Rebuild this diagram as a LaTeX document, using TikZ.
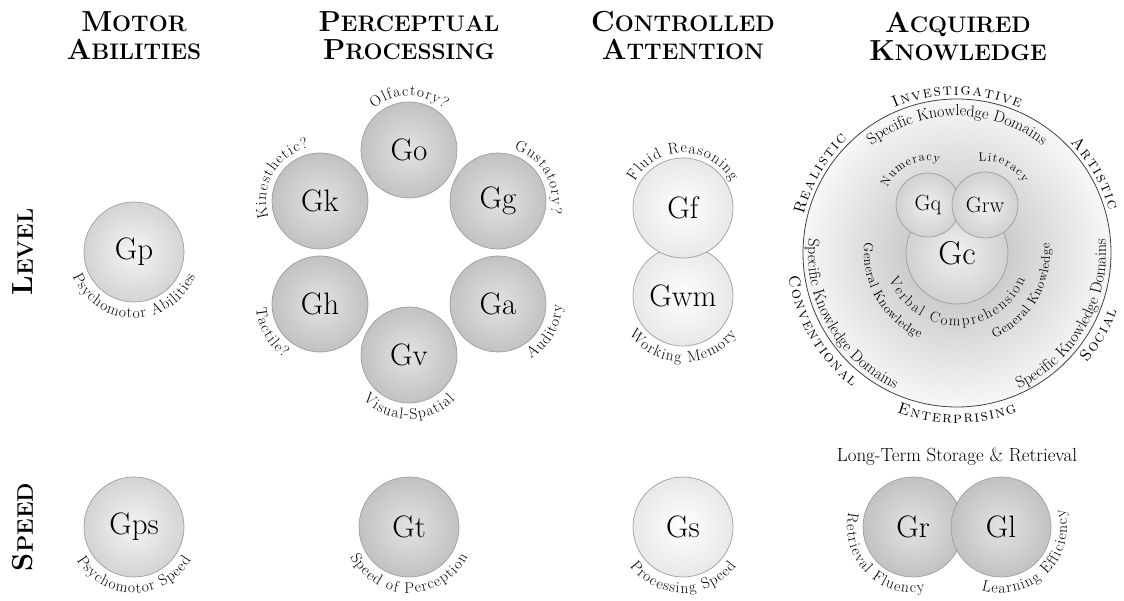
\documentclass[tikz,border=0pt]{standalone}
\usepackage{tikz}
\usetikzlibrary{shapes,positioning,decorations.text}

\definecolor{ringgray}{gray}{0.62}
\definecolor{bigring}{gray}{0.25}
\definecolor{lightin}{gray}{0.96}
\definecolor{lightout}{gray}{0.83}
\definecolor{midin}{gray}{0.89}
\definecolor{midout}{gray}{0.76}
\definecolor{palein}{gray}{1.0}
\definecolor{paleout}{gray}{0.91}
\definecolor{gcin}{gray}{0.94}
\definecolor{gcout}{gray}{0.82}
\definecolor{akin}{gray}{0.72}
\definecolor{akout}{gray}{0.97}

\newcommand\bigsc[2]{{\fontsize{29}{28}\selectfont #1}{\fontsize{22.5}{28}\selectfont #2}}
\newcommand\arcfont{\fontsize{15.5}{15.5}\selectfont}
\newcommand\secfont{\fontsize{16}{16}\selectfont\scshape}
\newcommand\skdfont{\fontsize{16}{16}\selectfont}
\newcommand\vcfont{\fontsize{15}{15}\selectfont}
\newcommand\gkfont{\fontsize{13}{13}\selectfont}
\newcommand\nlfont{\fontsize{12.5}{12.5}\selectfont}

% text on an arc round a node: node, radius, middle angle, spacing, font, text
\newcommand\cwtext[6]{%
  \path[shift={(#1)}, decorate, decoration={text effects along path, text={#6}, text align=center,
    text effects/.cd, characters={text along path, font=#5}, character widths={font=#5, inner xsep=#4}}]
    ({#3+100}:#2) arc[start angle={#3+100}, end angle={#3-100}, radius=#2];}
\newcommand\ccwtext[6]{%
  \path[shift={(#1)}, decorate, decoration={text effects along path, text={#6}, text align=center,
    text effects/.cd, characters={text along path, font=#5}, character widths={font=#5, inner xsep=#4}}]
    ({#3-100}:#2) arc[start angle={#3-100}, end angle={#3+100}, radius=#2];}

\begin{document}
\begin{tikzpicture}[x=1pt, y=1pt, every node/.style={inner sep=0pt},
  heading/.style={font=\bfseries\fontsize{29}{28}\selectfont, align=center},
  rowlbl/.style={font=\bfseries\fontsize{29}{28}\selectfont, rotate=90},
  ability/.style={circle, minimum size=100pt, draw=ringgray, line width=0.7pt, font=\fontsize{31}{31}\selectfont},
  lightball/.style={ability, inner color=lightin, outer color=lightout},
  midball/.style={ability, inner color=midin, outer color=midout},
  paleball/.style={ability, inner color=palein, outer color=paleout},
  gcball/.style={ability, inner color=gcin, outer color=gcout}]
\useasboundingbox (0,0) rectangle (1124,-601);

% Headings
\node[heading] (hmotor) at (134,-36) {\bigsc{M}{OTOR}\\\bigsc{A}{BILITIES}};
\node[heading] (hperc) at (409,-36) {\bigsc{P}{ERCEPTUAL}\\\bigsc{P}{ROCESSING}};
\node[heading] (hctrl) at (683,-36) {\bigsc{C}{ONTROLLED}\\\bigsc{A}{TTENTION}};
\node[heading] (hacq) at (958,-36) {\bigsc{A}{CQUIRED}\\\bigsc{K}{NOWLEDGE}};
\node[rowlbl] (level) at (23,-252) {\bigsc{L}{EVEL}};
\node[rowlbl] (speed) at (23,-527) {\bigsc{S}{PEED}};

% Motor
\node[lightball] (gp) at (134,-252) {Gp};
\node[lightball] (gps) at (134,-527) {Gps};
\ccwtext{gp}{66}{270}{0.5pt}{\arcfont}{Psychomotor Abilities}
\ccwtext{gps}{66}{270}{0.5pt}{\arcfont}{Psychomotor Speed}

% Perceptual
\node[midball, minimum size=96pt] (go) at (409,-150) {Go};
\node[midball, minimum size=96pt] (gk) at (320,-201) {Gk};
\node[midball, minimum size=96pt] (gg) at (498,-201) {Gg};
\node[midball, minimum size=96pt] (gh) at (320,-304) {Gh};
\node[midball, minimum size=96pt] (ga) at (498,-304) {Ga};
\node[midball, minimum size=96pt] (gv) at (409,-355) {Gv};
\node[midball] (gt) at (409,-527) {Gt};
\cwtext{go}{54}{90}{0.6pt}{\arcfont}{Olfactory?}
\cwtext{gk}{54}{150}{0.6pt}{\arcfont}{Kinesthetic?}
\cwtext{gg}{54}{30}{0.6pt}{\arcfont}{Gustatory?}
\ccwtext{gh}{64}{210}{0.6pt}{\arcfont}{Tactile?}
\ccwtext{ga}{64}{330}{0.6pt}{\arcfont}{Auditory}
\ccwtext{gv}{64}{270}{0.6pt}{\arcfont}{Visual-Spatial}
\ccwtext{gt}{66}{270}{0.6pt}{\arcfont}{Speed of Perception}

% Controlled attention
\node[paleball] (gwm) at (683,-296) {Gwm};
\node[paleball] (gf) at (683,-208) {Gf};
\node[paleball] (gs) at (683,-527) {Gs};
\cwtext{gf}{55}{90}{0.6pt}{\arcfont}{Fluid Reasoning}
\ccwtext{gwm}{66}{270}{0.6pt}{\arcfont}{Working Memory}
\ccwtext{gs}{66}{270}{0.6pt}{\arcfont}{Processing Speed}

% Acquired knowledge
\node[circle, minimum size=308pt, draw=bigring, line width=0.8pt, inner color=akin, outer color=akout] (ak) at (957,-253) {};
\node[gcball, minimum size=102pt, font=\fontsize{33}{33}\selectfont] (gc) at (957,-253) {Gc};
\node[gcball, minimum size=64pt, font=\fontsize{22}{22}\selectfont] (gq) at (928,-205) {Gq};
\node[gcball, minimum size=66pt, font=\fontsize{22}{22}\selectfont] (grw) at (985,-205) {Grw};
\cwtext{ak}{158}{90}{0.8pt}{\secfont}{Investigative}
\cwtext{ak}{158}{150}{0.8pt}{\secfont}{Realistic}
\cwtext{ak}{158}{30}{0.8pt}{\secfont}{Artistic}
\ccwtext{ak}{170}{330}{0.8pt}{\secfont}{Social}
\ccwtext{ak}{170}{270}{0.8pt}{\secfont}{Enterprising}
\ccwtext{ak}{170}{210}{0.8pt}{\secfont}{Conventional}
\cwtext{ak}{137}{90}{0pt}{\skdfont}{Specific Knowledge Domains}
\ccwtext{ak}{149}{210}{0pt}{\skdfont}{Specific Knowledge Domains}
\ccwtext{ak}{149}{330}{0pt}{\skdfont}{Specific Knowledge Domains}
\ccwtext{gc}{73}{270}{1pt}{\vcfont}{Verbal Comprehension}
\ccwtext{gc}{93}{210}{0.3pt}{\gkfont}{General Knowledge}
\ccwtext{gc}{93}{330}{0.3pt}{\gkfont}{General Knowledge}
\cwtext{gq}{44}{116}{0.6pt}{\nlfont}{Numeracy}
\cwtext{grw}{44}{64}{0.6pt}{\nlfont}{Literacy}

% Long-term storage
\node[font=\fontsize{19}{19}\selectfont] (ltsr) at (957,-457) {Long-Term Storage \& Retrieval};
\node[midball] (gr) at (913,-527) {Gr};
\node[midball] (gl) at (1001,-527) {Gl};
\ccwtext{gr}{66}{224}{0.6pt}{\arcfont}{Retrieval Fluency}
\ccwtext{gl}{66}{314}{0.6pt}{\arcfont}{Learning Efficiency}
\end{tikzpicture}
\end{document}
